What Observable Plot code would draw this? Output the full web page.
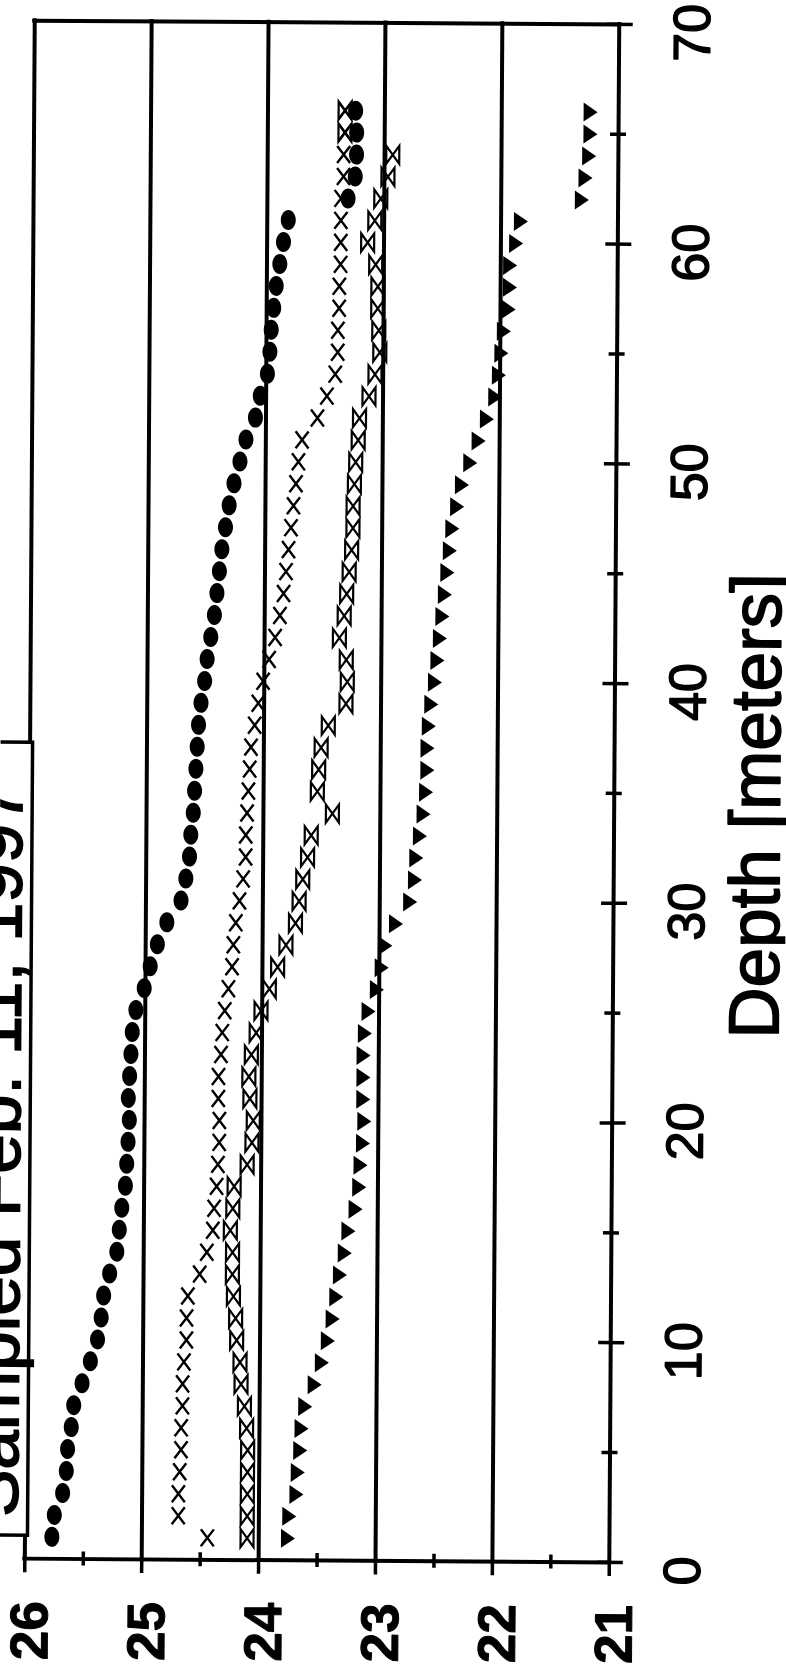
<!DOCTYPE html>
<html><head><meta charset="utf-8">
<script src="https://cdn.jsdelivr.net/npm/d3@7"></script>
<script src="https://cdn.jsdelivr.net/npm/@observablehq/plot@0.6"></script>
<style>
html,body{margin:0;padding:0;overflow:hidden;background:#fff;}
#chart svg{transform:rotate(0.37deg);transform-origin:50% 50%;}
</style></head><body><div id="chart"></div>
<script>
// Depth [m] of each sample
const depth = [1,2,3,4,5,6,7,8,9,10,11,12,13,14,15,16,17,18,19,20,21,22,23,24,25,26,27,28,29,30,31,32,33,34,35,36,37,38,39,40,41,42,43,44,45,46,47,48,49,50,51,52,53,54,55,56,57,58,59,60,61,62,63,64,65,66];
// Temperature series (filled circles, crosses, bowties, triangles)
const tempCircle = [
25.77,25.75,25.68,25.65,25.64,25.61,25.59,25.52,25.45,25.39,
25.36,25.34,25.29,25.23,25.21,25.19,25.16,25.15,25.14,25.13,
25.14,25.13,25.12,25.11,25.08,25.01,24.96,24.9,24.82,24.7,
24.66,24.63,24.62,24.6,24.59,24.58,24.57,24.56,24.54,24.51,
24.49,24.46,24.43,24.41,24.39,24.37,24.34,24.31,24.27,24.22,
24.17,24.09,24.05,23.99,23.97,23.96,23.94,23.92,23.89,23.86,
23.82,23.31,23.25,23.24,23.24,23.25];
const tempCross = [
24.44,24.69,24.69,24.68,24.67,24.67,24.66,24.66,24.65,24.63,
24.63,24.62,24.52,24.46,24.41,24.4,24.38,24.37,24.36,24.36,
24.37,24.37,24.35,24.34,24.32,24.29,24.26,24.25,24.23,24.2,
24.17,24.15,24.15,24.14,24.13,24.12,24.11,24.08,24.05,24.01,
23.96,23.91,23.87,23.84,23.82,23.8,23.78,23.76,23.74,23.72,
23.69,23.56,23.48,23.41,23.39,23.39,23.38,23.38,23.37,23.37,
23.37,23.37,23.35,23.35,23.34,23.34];
const tempBowtie = [
24.1,24.1,24.1,24.1,24.1,24.11,24.13,24.16,24.17,24.2,
24.21,24.23,24.24,24.24,24.26,24.24,24.23,24.12,24.08,24.07,
24.1,24.11,24.09,24.05,24.01,23.94,23.87,23.8,23.72,23.69,
23.66,23.62,23.59,23.41,23.54,23.53,23.51,23.45,23.3,23.29,
23.3,23.36,23.32,23.3,23.28,23.26,23.25,23.25,23.24,23.23,
23.21,23.2,23.12,23.07,23.03,23.04,23.05,23.05,23.07,23.14,
23.08,23.03,22.97,22.93,23.34,23.34];
const tempTriangle = [
23.75,23.74,23.68,23.67,23.65,23.64,23.61,23.53,23.47,23.42,
23.38,23.35,23.32,23.28,23.25,23.19,23.16,23.15,23.13,23.12,
23.13,23.13,23.13,23.12,23.09,23.02,22.98,22.95,22.86,22.74,
22.7,22.69,22.66,22.63,22.61,22.6,22.6,22.59,22.57,22.54,
22.52,22.5,22.48,22.46,22.44,22.42,22.4,22.36,22.32,22.25,
22.18,22.11,22.04,22.01,21.99,21.97,21.93,21.92,21.92,21.87,
21.83,21.31,21.28,21.25,21.24,21.24];
// Axis ticks and labels
const tempTicks = [26,25,24,23,22,21];
const tempMinorTicks = [25.5,24.5,23.5,22.5,21.5];
const depthTicks = [0,10,20,30,40,50,60,70];
const depthMinorTicks = [5,15,25,35,45,55,65];
const titleText = "Sampled Feb. 11, 1997";
const depthLabel = "Depth [meters]";

const FONT = "'Liberation Sans', Arial, Helvetica, sans-serif";
const series = temps => depth.map((d, i) => ({depth: d, temp: temps[i]}));

// custom marker shapes
const K = 0.5523;
const ellipseSym = {draw(c) {
  const rx = 7.5, ry = 10;
  c.moveTo(rx, 0);
  c.bezierCurveTo(rx, ry*K, rx*K, ry, 0, ry);
  c.bezierCurveTo(-rx*K, ry, -rx, ry*K, -rx, 0);
  c.bezierCurveTo(-rx, -ry*K, -rx*K, -ry, 0, -ry);
  c.bezierCurveTo(rx*K, -ry, rx, -ry*K, rx, 0);
  c.closePath();
}};
const crossSym = {draw(c) {
  const w = 6.5, h = 8.5;
  c.moveTo(-w, -h); c.lineTo(w, h);
  c.moveTo(w, -h); c.lineTo(-w, h);
}};
const bowtieSym = {draw(c) {
  const w = 6.5, h = 9;
  c.moveTo(-w, -h); c.lineTo(w, h); c.lineTo(w, -h); c.lineTo(-w, h); c.closePath();
}};
const triSym = {draw(c) {
  const w = 7, h = 9.5;
  c.moveTo(-w, -h); c.lineTo(w, 0); c.lineTo(-w, h); c.closePath();
}};

const chart = Plot.plot({
  width: 786,
  height: 1669,
  marginLeft: 29,
  marginRight: 172.5,
  marginTop: 22.5,
  marginBottom: 108.5,
  x: {domain: [26, 21], axis: null},
  y: {domain: [0, 70], axis: null},
  style: {fontFamily: FONT, background: "white", color: "black"},
  marks: [
    // frame sides + vertical gridlines
    Plot.ruleX(tempTicks, {x: d => d, y1: depthTicks[0], y2: depthTicks[depthTicks.length - 1], stroke: "black", strokeWidth: 4, strokeLinecap: "square"}),
    // bottom axis line and top frame line
    Plot.ruleY([depthTicks[0], depthTicks[depthTicks.length - 1]], {y: d => d, x1: tempTicks[0], x2: tempTicks[tempTicks.length - 1], stroke: "black", strokeWidth: 4, strokeLinecap: "square"}),
    // temperature axis ticks
    Plot.ruleX(tempTicks, {x: d => d, y1: 0, y2: 0, insetTop: 0, insetBottom: -14, stroke: "black", strokeWidth: 3.5}),
    Plot.ruleX(tempMinorTicks, {x: d => d, y1: 0, y2: 0, insetTop: -7, insetBottom: -7, stroke: "black", strokeWidth: 3.5}),
    // depth axis ticks
    Plot.ruleY(depthTicks, {y: d => d, x1: 21, x2: 21, insetLeft: -12, insetRight: -14, stroke: "black", strokeWidth: 3.5}),
    Plot.ruleY(depthMinorTicks, {y: d => d, x1: 21, x2: 21, insetLeft: -8, insetRight: -8, stroke: "black", strokeWidth: 3.5}),
    // data
    Plot.dot(series(tempCircle), {x: "temp", y: "depth", symbol: ellipseSym, fill: "black", stroke: "none"}),
    Plot.dot(series(tempCross), {x: "temp", y: "depth", symbol: crossSym, fill: "none", stroke: "black", strokeWidth: 2.4}),
    Plot.dot(series(tempBowtie), {x: "temp", y: "depth", symbol: bowtieSym, fill: "none", stroke: "black", strokeWidth: 2.2, strokeLinejoin: "miter"}),
    Plot.dot(series(tempTriangle), {x: "temp", y: "depth", symbol: triSym, fill: "black", stroke: "none"}),
    // tick labels
    Plot.text(tempTicks, {x: d => d, text: d => String(d), frameAnchor: "bottom", dx: 6, dy: 72, rotate: -90, fontSize: 53, fontWeight: "bold", textAnchor: "middle", lineAnchor: "middle", fill: "black", stroke: "black", strokeWidth: 1}),
    Plot.text(depthTicks, {y: d => d, text: d => String(d), frameAnchor: "right", dx: 74, dy: 8, rotate: -90, fontSize: 52, fontWeight: "normal", textAnchor: "middle", lineAnchor: "middle", fill: "black", stroke: "black", strokeWidth: 1.4}),
    // axis title
    Plot.text([depthLabel], {text: d => d, frameAnchor: "right", dx: 165.5, dy: 11.5, rotate: -90, fontSize: 71, textAnchor: "middle", lineAnchor: "bottom", fill: "black", stroke: "black", strokeWidth: 1.6})
  ]
});
document.getElementById("chart").appendChild(chart);

// boxed title at the left edge (partly cut off, as in the original)
const svg = d3.select(chart);
const tg = svg.append("g");
tg.append("rect").attr("x", -10).attr("y", 744.5).attr("width", 42).attr("height", 793)
  .attr("fill", "white").attr("stroke", "black").attr("stroke-width", 3.5);
tg.append("text").attr("transform", "translate(22,1153) rotate(-90)")
  .attr("text-anchor", "middle").attr("font-size", 71).attr("font-family", FONT)
  .attr("fill", "black").attr("stroke", "black").attr("stroke-width", 1.6)
  .text(titleText);
</script>
</body></html>
